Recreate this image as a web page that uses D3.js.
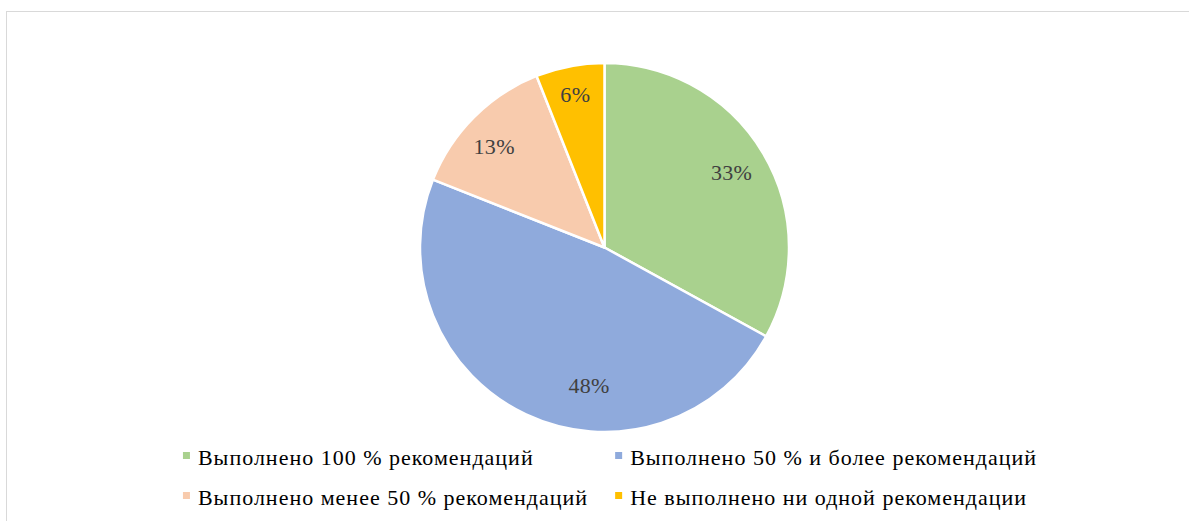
<!DOCTYPE html>
<html>
<head>
<meta charset="utf-8">
<script src="https://cdn.jsdelivr.net/npm/d3@7"></script>
<style>
  html, body { margin: 0; padding: 0; background: #fff; }
  svg { display: block; }
</style>
</head>
<body>
<div id="chart"></div>
<script>
// chart data
const categories = [
    "Выполнено 100 % рекомендаций",
    "Выполнено 50 % и более рекомендаций",
    "Выполнено менее 50 % рекомендаций",
    "Не выполнено ни одной рекомендации"
];
const values = [33, 48, 13, 6];
const colors = ["#a9d18e", "#8faadc", "#f8cbad", "#ffc000"];

const W = 1189, H = 521;
const cx = 604.5, cy = 247.5, R = 184.5;
const FONT = "'Liberation Serif', 'DejaVu Serif', serif";

const svg = d3.select("#chart")
    .append("svg")
    .attr("width", W)
    .attr("height", H);

// chart area border
svg.append("rect")
    .attr("x", 6.5)
    .attr("y", 11.5)
    .attr("width", W)
    .attr("height", H)
    .attr("fill", "none")
    .attr("stroke", "#d9d9d9")
    .attr("stroke-width", 1);

const data = categories.map((c, i) => ({ name: c, value: values[i], color: colors[i] }));

const pie = d3.pie()
    .sort(null)
    .value(d => d.value);

const arc = d3.arc()
    .innerRadius(0)
    .outerRadius(R);

const arcs = pie(data);

const g = svg.append("g")
    .attr("transform", `translate(${cx},${cy})`);

g.selectAll("path")
    .data(arcs)
    .enter()
    .append("path")
    .attr("d", arc)
    .attr("fill", d => d.data.color)
    .attr("stroke", "#fff")
    .attr("stroke-width", 2.5)
    .attr("stroke-linejoin", "round");

// label placement, roughly like excel's "best fit"
const labelRadius = [0.80, 0.75, 0.81, 0.845];
const labelAngleShift = [0, -18.8, -2.6, 0]; // degrees

g.selectAll("text.lbl")
    .data(arcs)
    .enter()
    .append("text")
    .attr("class", "lbl")
    .attr("text-anchor", "middle")
    .attr("dy", "0.35em")
    .attr("x", (d, i) => {
        const a = (d.startAngle + d.endAngle) / 2 + labelAngleShift[i] * Math.PI / 180;
        return Math.sin(a) * R * labelRadius[i];
    })
    .attr("y", (d, i) => {
        const a = (d.startAngle + d.endAngle) / 2 + labelAngleShift[i] * Math.PI / 180;
        return -Math.cos(a) * R * labelRadius[i];
    })
    .attr("fill", "#404040")
    .style("font-family", FONT)
    .style("font-size", "22px")
    .style("letter-spacing", "0.3px")
    .text(d => d.data.value + "%");

// legend, two columns
const legend = svg.append("g");
const rowY = [465, 505]; // text baselines
const markerSize = 7, markerGap = 8, colGap = 27;

const items = legend.selectAll("g.item")
    .data(data)
    .enter()
    .append("g")
    .attr("class", "item");

items.append("rect")
    .attr("y", -13)
    .attr("width", markerSize)
    .attr("height", markerSize)
    .attr("fill", d => d.color);

items.append("text")
    .attr("x", markerSize + markerGap)
    .attr("y", 0)
    .attr("fill", "#000")
    .style("font-family", FONT)
    .style("font-size", "22px")
    .style("letter-spacing", "1px")
    .text(d => d.name);

const widths = [];
items.select("text").each(function (d, i) { widths[i] = this.getComputedTextLength(); });
const colW = [Math.max(widths[0], widths[2]), Math.max(widths[1], widths[3])]
    .map(w => w + markerSize + markerGap);
const total = colW[0] + colGap + colW[1];
const x0 = cx + 5.5 - total / 2;
const colX = [x0, x0 + colW[0] + colGap];

items.attr("transform", (d, i) =>
    `translate(${colX[i % 2]},${rowY[Math.floor(i / 2)]})`);
</script>
</body>
</html>
